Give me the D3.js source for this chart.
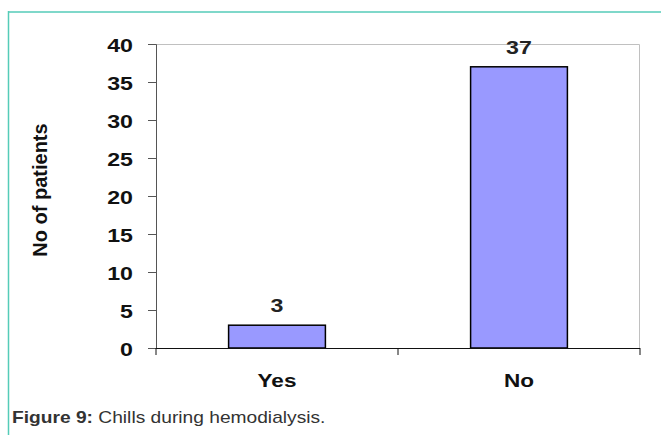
<!DOCTYPE html>
<html>
<head>
<meta charset="utf-8">
<script src="https://cdn.jsdelivr.net/npm/d3@7"></script>
<style>
  body { margin: 0; background: #fff; }
  svg { display: block; }
</style>
</head>
<body>
<svg id="chart" width="661" height="435"></svg>
<script>
// chart data
const categories = ['Yes', 'No'];
const patients = [3, 37];
const yTicks = [0, 5, 10, 15, 20, 25, 30, 35, 40];

const FONT = 'Liberation Sans, Arial, sans-serif';
const STRETCH = 1.22; // the reference text is a bit wider than plain Arial

const svg = d3.select('#chart');
const margin = {left: 156, right: 21, top: 44, bottom: 87};
const width = 661 - margin.left - margin.right;
const height = 435 - margin.top - margin.bottom;

// put a text at (x,y) with a horizontal stretch
function wide(sel, x, y) {
  sel.attr('x', 0).attr('y', 0)
    .attr('transform', 'translate(' + x + ',' + y + ') scale(' + STRETCH + ',1)');
}

// teal frame round the figure
svg.append('line')
  .attr('x1', 8).attr('y1', 12).attr('x2', 661).attr('y2', 12)
  .style('stroke', '#7fd8ca').style('stroke-width', 2);
svg.append('line')
  .attr('x1', 8.5).attr('y1', 11).attr('x2', 8.5).attr('y2', 435)
  .style('stroke', '#55ccb8').style('stroke-width', 1.5);

const g = svg.append('g')
  .attr('transform', 'translate(' + margin.left + ',' + margin.top + ')');

const x = d3.scaleBand().domain(categories).range([0, width]).paddingInner(0).paddingOuter(0);
const y = d3.scaleLinear().domain([0, 40]).range([height, 0]);

// light grey plot frame (top and right)
g.append('path')
  .attr('d', 'M0,0.5H' + (width - 0.5) + 'V' + height)
  .style('fill', 'none').style('stroke', '#c0c0c0').style('stroke-width', 1);

// bars
const barW = x.bandwidth() * 0.4;
g.selectAll('rect.bar')
  .data(patients)
  .enter().append('rect')
  .attr('class', 'bar')
  .attr('x', (d, i) => x(categories[i]) + (x.bandwidth() - barW) / 2)
  .attr('y', d => y(d))
  .attr('width', barW)
  .attr('height', d => height - y(d))
  .style('fill', '#9999ff')
  .style('stroke', '#000')
  .style('stroke-width', 1.5);

// value labels
g.selectAll('text.val')
  .data(patients)
  .enter().append('text')
  .attr('class', 'val')
  .attr('text-anchor', 'middle')
  .style('font-family', FONT)
  .style('font-weight', 'bold')
  .style('font-size', '19px')
  .style('fill', '#222')
  .text(d => d)
  .each(function(d, i) {
    wide(d3.select(this), x(categories[i]) + x.bandwidth() / 2, y(d) - 13);
  });

// y axis
const yAxis = g.append('g')
  .call(d3.axisLeft(y).tickValues(yTicks).tickSize(8).tickPadding(7));
yAxis.select('.domain').style('stroke', '#555');
yAxis.selectAll('.tick line').style('stroke', '#555');
yAxis.selectAll('.tick text')
  .attr('dy', null)
  .style('font-family', FONT)
  .style('font-weight', 'bold')
  .style('font-size', '19px')
  .style('fill', '#111')
  .each(function() { wide(d3.select(this), -23, 7); });

// x axis line with ticks at band edges
const xAxis = g.append('g').attr('transform', 'translate(0,' + height + ')');
xAxis.append('line')
  .attr('x1', 0).attr('x2', width).attr('y1', 0.5).attr('y2', 0.5)
  .style('stroke', '#111').style('stroke-width', 1.2);
const edges = categories.map(c => x(c)).concat([width]);
xAxis.selectAll('line.edge')
  .data(edges)
  .enter().append('line')
  .attr('class', 'edge')
  .attr('x1', d => d).attr('x2', d => d)
  .attr('y1', 0).attr('y2', 7)
  .style('stroke', '#111');
xAxis.selectAll('text')
  .data(categories)
  .enter().append('text')
  .attr('text-anchor', 'middle')
  .style('font-family', FONT)
  .style('font-weight', 'bold')
  .style('font-size', '18.5px')
  .style('fill', '#111')
  .text(d => d)
  .each(function(d) { wide(d3.select(this), x(d) + x.bandwidth() / 2, 39); });

// y title
svg.append('text')
  .attr('transform', 'translate(47,190) rotate(-90)')
  .attr('text-anchor', 'middle')
  .style('font-family', FONT)
  .style('font-weight', 'bold')
  .style('font-size', '20px')
  .style('fill', '#111')
  .text('No of patients');

// caption
const cap = svg.append('text')
  .attr('transform', 'translate(12,423) scale(1.2,1)')
  .style('font-family', FONT)
  .style('font-size', '16px')
  .style('fill', '#333');
cap.append('tspan').style('font-weight', 'bold').text('Figure 9:');
cap.append('tspan').text(' Chills during hemodialysis.');
</script>
</body>
</html>
